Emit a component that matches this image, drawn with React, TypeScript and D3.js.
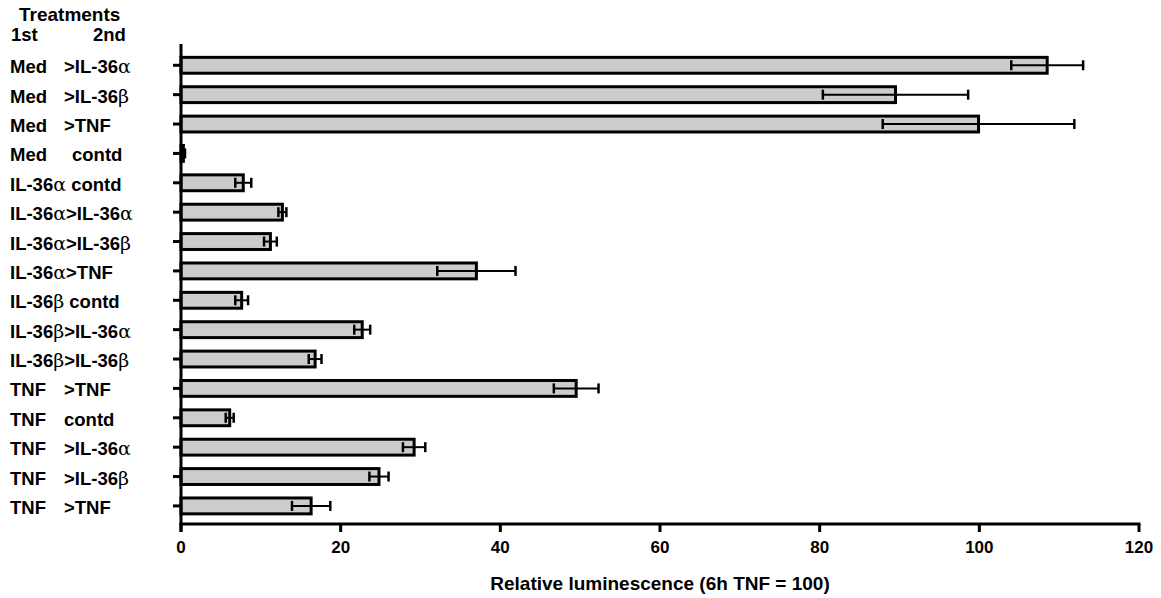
import React from "react";
import * as d3 from "d3";

// First and second treatment of each group, top to bottom
const firstTreatment = [
  "Med", "Med", "Med", "Med",
  "IL-36α", "IL-36α", "IL-36α", "IL-36α",
  "IL-36β", "IL-36β", "IL-36β",
  "TNF", "TNF", "TNF", "TNF", "TNF",
];
const secondTreatment = [
  ">IL-36α", ">IL-36β", ">TNF", "contd",
  "contd", ">IL-36α", ">IL-36β", ">TNF",
  "contd", ">IL-36α", ">IL-36β",
  ">TNF", "contd", ">IL-36α", ">IL-36β", ">TNF",
];

// Relative luminescence (6h TNF = 100), mean and error
const meanValues = [108.5, 89.5, 99.9, 0.3, 7.8, 12.7, 11.2, 37.0, 7.6, 22.7, 16.8, 49.5, 6.1, 29.2, 24.8, 16.3];
const errorValues = [4.5, 9.1, 12.0, 0.2, 1.0, 0.5, 0.8, 4.9, 0.8, 1.0, 0.8, 2.8, 0.5, 1.4, 1.2, 2.4];

const xTicks = [0, 20, 40, 60, 80, 100, 120];

const W = 1161;
const H = 598;
const FONT = "'Liberation Sans', Arial, Helvetica, sans-serif";
const GREEK = "'DejaVu Serif', 'Liberation Serif', serif";
const LABEL_SIZE = 18.5;

// Split a label into plain and Greek pieces so the Greek letters get their own face
function renderPieces(s: string, keyBase: string) {
  const parts = s.split(/([αβ])/).filter((p) => p.length > 0);
  return parts.map((p, i) =>
    p === "α" || p === "β" ? (
      <tspan key={keyBase + i} fontFamily={GREEK} fontWeight="normal" fontSize={19}>
        {p}
      </tspan>
    ) : (
      <tspan key={keyBase + i}>{p}</tspan>
    )
  );
}

export default function App() {
  const ids = meanValues.map((_, i) => String(i));
  const x = d3.scaleLinear().domain([0, 120]).range([181, 1139]);
  const y = d3
    .scaleBand<string>()
    .domain(ids)
    .range([50.6, 520.6])
    .paddingInner(0.46)
    .paddingOuter(0.23);
  const bw = y.bandwidth();
  const axisY = 524;
  const capH = 10;

  return (
    <svg
      width={W}
      height={H}
      style={{ position: "absolute", left: 0, top: 0, background: "#fff" }}
      fontFamily={FONT}
    >
      {/* header */}
      <text x={19} y={21} fontSize={19} fontWeight="bold">Treatments</text>
      <text x={11} y={41} fontSize={LABEL_SIZE} fontWeight="bold">1st</text>
      <text x={93} y={41} fontSize={LABEL_SIZE} fontWeight="bold">2nd</text>

      {/* category labels */}
      {ids.map((id, i) => {
        const cy = (y(id) as number) + bw / 2;
        const first = firstTreatment[i];
        const second = secondTreatment[i];
        const shortFirst = first === "Med" || first === "TNF";
        const secondX = shortFirst ? (second === "contd" && first === "Med" ? 72 : 64) : null;
        return (
          <text key={"lab" + id} y={cy + 8} fontSize={LABEL_SIZE} fontWeight="bold" xmlSpace="preserve">
            <tspan x={10}>{renderPieces(first, "f" + id)}</tspan>
            {secondX !== null ? (
              <tspan x={secondX}>{renderPieces(second, "s" + id)}</tspan>
            ) : (
              <tspan>{renderPieces((second === "contd" ? " " : "") + second, "s" + id)}</tspan>
            )}
          </text>
        );
      })}

      {/* bars */}
      {ids.map((id, i) => {
        const y0 = y(id) as number;
        return (
          <rect
            key={"bar" + id}
            x={x(0)}
            y={y0}
            width={Math.max(0, x(meanValues[i]) - x(0))}
            height={bw}
            fill="#cccccc"
            stroke="#000"
            strokeWidth={3}
          />
        );
      })}

      {/* error bars */}
      {ids.map((id, i) => {
        const cy = (y(id) as number) + bw / 2;
        const lo = x(meanValues[i] - errorValues[i]);
        const hi = x(meanValues[i] + errorValues[i]);
        return (
          <g key={"err" + id} stroke="#000">
            <line x1={lo} x2={hi} y1={cy} y2={cy} strokeWidth={2} />
            <line x1={lo} x2={lo} y1={cy - capH / 2} y2={cy + capH / 2} strokeWidth={2.5} />
            <line x1={hi} x2={hi} y1={cy - capH / 2} y2={cy + capH / 2} strokeWidth={2.5} />
          </g>
        );
      })}

      {/* y axis */}
      <line x1={x(0)} x2={x(0)} y1={44} y2={axisY + 8} stroke="#000" strokeWidth={3} />
      {ids.map((id) => {
        const cy = (y(id) as number) + bw / 2;
        return <line key={"yt" + id} x1={x(0) - 8} x2={x(0)} y1={cy} y2={cy} stroke="#000" strokeWidth={3} />;
      })}

      {/* x axis */}
      <line x1={x(0) - 1.5} x2={x(120) + 1.5} y1={axisY} y2={axisY} stroke="#000" strokeWidth={3} />
      {xTicks.map((t) => (
        <g key={"xt" + t}>
          <line x1={x(t)} x2={x(t)} y1={axisY} y2={axisY + 8} stroke="#000" strokeWidth={3} />
          <text x={x(t)} y={553} fontSize={17} fontWeight="bold" textAnchor="middle">
            {t}
          </text>
        </g>
      ))}

      <text x={(x(0) + x(120)) / 2} y={590} fontSize={19} fontWeight="bold" textAnchor="middle">
        Relative luminescence (6h TNF = 100)
      </text>
    </svg>
  );
}
